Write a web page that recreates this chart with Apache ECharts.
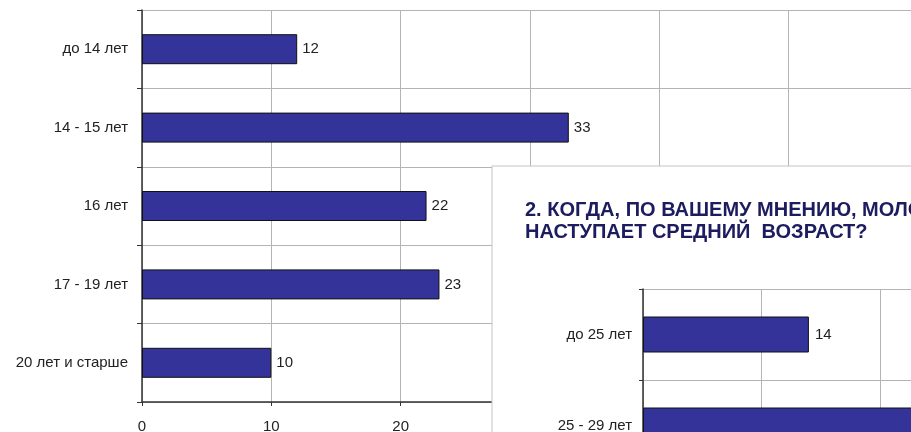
<!DOCTYPE html>
<html>
<head>
<meta charset="utf-8" />
<title>chart</title>
<script src="https://cdn.jsdelivr.net/npm/echarts@6/dist/echarts.min.js"></script>
<style>
  html, body { margin: 0; padding: 0; background: #fff; }
  #main { width: 911px; height: 432px; }
</style>
</head>
<body>
<div id="main"></div>
<script>
// первый график
var cats1 = ['до 14 лет', '14 - 15 лет', '16 лет', '17 - 19 лет', '20 лет и старше'];
var vals1 = [12, 33, 22, 23, 10];
var xMax1 = 60;
var xStep1 = 10;

// второй график (перекрывающая вставка)
var title2 = ['2. КОГДА, ПО ВАШЕМУ МНЕНИЮ, МОЛОДОСТЬ ЗАКАНЧИВАЕТСЯ И', 'НАСТУПАЕТ СРЕДНИЙ  ВОЗРАСТ?'];
var cats2 = ['до 25 лет', '25 - 29 лет'];
var vals2 = [14, 30];
var xMax2 = 30;
var xStep2 = 10;

var gridColor = '#b4b4b4';
var axisColor = '#333';
var barColor = '#333399';

var chart = echarts.init(document.getElementById('main'));

chart.setOption({
  animation: false,
  grid: [
    { left: 142, top: 10, width: 776, height: 392, outerBoundsMode: 'none', containLabel: false },
    { left: 643, top: 289, width: 355.5, height: 182, outerBoundsMode: 'none', containLabel: false }
  ],
  xAxis: [{
    gridIndex: 0,
    type: 'value',
    min: 0, max: xMax1, interval: xStep1,
    axisLine: { show: true, lineStyle: { color: axisColor, width: 1.5 } },
    axisTick: { show: true, length: 4, lineStyle: { color: axisColor } },
    axisLabel: {
      color: '#222', fontSize: 15, margin: 17, fontFamily: 'Liberation Sans, Arial',
      formatter: function (v) { return v <= 20 ? String(v) : ''; }
    },
    splitLine: { show: true, lineStyle: { color: gridColor, width: 1 } }
  }, {
    gridIndex: 1,
    type: 'value',
    min: 0, max: xMax2, interval: xStep2,
    z: 60,
    axisLine: { show: true, lineStyle: { color: axisColor, width: 1.5 } },
    axisTick: { show: false },
    axisLabel: { show: false },
    splitLine: { show: true, lineStyle: { color: gridColor, width: 1 } }
  }],
  yAxis: [{
    gridIndex: 0,
    type: 'category',
    data: cats1,
    inverse: true,
    axisLine: { show: true, lineStyle: { color: axisColor, width: 1.5 } },
    axisTick: { show: true, length: 5, lineStyle: { color: axisColor } },
    axisLabel: { color: '#222', fontSize: 15, margin: 14, fontFamily: 'Liberation Sans, Arial' },
    splitLine: { show: true, lineStyle: { color: gridColor, width: 1 } }
  }, {
    gridIndex: 1,
    type: 'category',
    data: cats2,
    inverse: true,
    z: 60,
    axisLine: { show: true, lineStyle: { color: axisColor, width: 1.5 } },
    axisTick: { show: true, length: 4, lineStyle: { color: axisColor } },
    axisLabel: { color: '#222', fontSize: 15, margin: 11, fontFamily: 'Liberation Sans, Arial' },
    splitLine: { show: true, lineStyle: { color: gridColor, width: 1 } }
  }],
  graphic: [{
    type: 'rect',
    z: 50,
    silent: true,
    shape: { x: 492, y: 166, width: 430, height: 280 },
    style: { fill: '#fff', stroke: '#c4c4c4', lineWidth: 1 }
  }, {
    type: 'text',
    z: 60,
    silent: true,
    left: 525, top: 199,
    style: {
      text: title2.join('\n'),
      fill: '#1c1c5e',
      font: 'bold 20px "Liberation Sans", Arial, sans-serif',
      lineHeight: 22
    }
  }],
  series: [{
    type: 'bar',
    xAxisIndex: 0, yAxisIndex: 0,
    data: vals1,
    barWidth: 30,
    itemStyle: { color: barColor, borderColor: '#111', borderWidth: 1 },
    label: { show: true, position: 'right', distance: 5, color: '#222', fontSize: 15, fontFamily: 'Liberation Sans, Arial' }
  }, {
    type: 'bar',
    xAxisIndex: 1, yAxisIndex: 1,
    z: 61,
    data: vals2,
    barWidth: 36,
    itemStyle: { color: barColor, borderColor: '#111', borderWidth: 1 },
    label: { show: true, position: 'right', distance: 6, color: '#222', fontSize: 15, fontFamily: 'Liberation Sans, Arial' }
  }]
});
</script>
</body>
</html>
